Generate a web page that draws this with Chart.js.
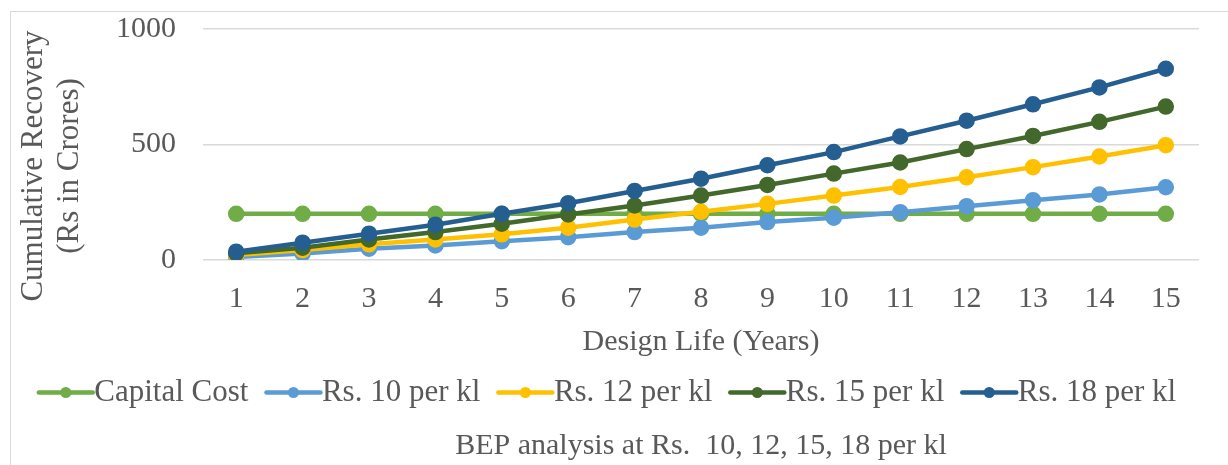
<!DOCTYPE html>
<html>
<head>
<meta charset="utf-8">
<script src="https://cdn.jsdelivr.net/npm/chart.js@4.4.1/dist/chart.umd.min.js"></script>
<style>
  html, body { margin: 0; padding: 0; background: #fff; overflow: hidden; }
  #wrap { position: relative; width: 1228px; height: 465px; }
  #frame { position: absolute; left: 10px; top: 11px; width: 1300px; height: 500px; border: 1.5px solid #d9d9d9; }
  canvas { position: absolute; left: 0; top: 0; }
</style>
</head>
<body>
<div id="wrap">
  <div id="frame"></div>
  <canvas id="chart" width="1228" height="465"></canvas>
</div>
<script>
const YEARS = ['1','2','3','4','5','6','7','8','9','10','11','12','13','14','15'];
const CAPITAL_COST = [200,200,200,200,200,200,200,200,200,200,200,200,200,200,200];
const RS_10 = [13,28,49,63,81,99,121,140,164,183,207,233,259,284,315];
const RS_12 = [22,43,68,89,111,140,175,209,243,279,316,358,402,448,497];
const RS_15 = [29,53,89,121,157,197,236,279,325,374,422,480,537,598,664];
const RS_18 = [36,75,114,153,200,246,299,352,410,467,535,603,674,747,828];
const Y_TITLE = ['Cumulative Recovery', '(Rs in Crores)'];

const FONT = 'Liberation Serif, Times New Roman, serif';
const GREY = '#595959';

function series(label, data, col, order) {
  return {
    label, data, order,
    borderColor: col, backgroundColor: col,
    pointBackgroundColor: col, pointBorderColor: col,
    borderWidth: 4.5, pointRadius: 6, pointHoverRadius: 6,
    tension: 0, fill: false
  };
}

// excel style legend marker: a line with a dot in the middle
const legendMarkers = {
  id: 'legendMarkers',
  afterDraw(chart) {
    const lg = chart.legend;
    if (!lg || !lg.legendHitBoxes) return;
    const ctx = chart.ctx;
    lg.legendHitBoxes.forEach((box, i) => {
      const item = lg.legendItems[i];
      const col = chart.data.datasets[item.datasetIndex].borderColor;
      const y = box.top + box.height / 2;
      ctx.save();
      ctx.strokeStyle = col;
      ctx.fillStyle = col;
      ctx.lineWidth = 4.5;
      ctx.lineCap = 'round';
      ctx.beginPath();
      ctx.moveTo(box.left + 2, y);
      ctx.lineTo(box.left + 56, y);
      ctx.stroke();
      ctx.beginPath();
      ctx.arc(box.left + 29, y, 5.5, 0, Math.PI * 2);
      ctx.fill();
      ctx.restore();
    });
  }
};

// y title sits a little below the plot centre in the original, so draw it here
const yTitle = {
  id: 'yTitle',
  afterDraw(chart) {
    const ctx = chart.ctx;
    ctx.save();
    ctx.translate(34, 166);
    ctx.rotate(-Math.PI / 2);
    ctx.fillStyle = GREY;
    ctx.font = '31px ' + FONT;
    ctx.textAlign = 'center';
    ctx.textBaseline = 'middle';
    Y_TITLE.forEach((t, i) => ctx.fillText(t, 0, i * 36));
    ctx.restore();
  }
};

new Chart(document.getElementById('chart'), {
  type: 'line',
  data: {
    labels: YEARS,
    datasets: [
      series('Capital Cost', CAPITAL_COST, '#70AD47', 5),
      series('Rs. 10 per kl', RS_10, '#5B9BD5', 4),
      series('Rs. 12 per kl', RS_12, '#FFC000', 3),
      series('Rs. 15 per kl', RS_15, '#43682B', 2),
      series('Rs. 18 per kl', RS_18, '#255E91', 1)
    ]
  },
  options: {
    responsive: false,
    animation: false,
    layout: { padding: { left: 14, right: 29, top: 29, bottom: 0 } },
    plugins: {
      tooltip: { enabled: false },
      legend: {
        position: 'bottom',
        labels: {
          color: GREY,
          font: { family: FONT, size: 31 },
          boxWidth: 42,
          padding: 16,
          sort: (a, b) => a.datasetIndex - b.datasetIndex,
          generateLabels: chart => Chart.defaults.plugins.legend.labels.generateLabels(chart).map(l =>
            ({ ...l, fillStyle: 'rgba(0,0,0,0)', strokeStyle: 'rgba(0,0,0,0)', lineWidth: 0 }))
        }
      },
      title: {
        display: true,
        position: 'bottom',
        fullSize: false,
        text: 'BEP analysis at Rs.  10, 12, 15, 18 per kl',
        color: GREY,
        font: { family: FONT, size: 30, weight: 'normal', lineHeight: 1.2 },
        padding: { top: 10, bottom: 1 }
      }
    },
    scales: {
      x: {
        offset: true,
        grid: { display: false, drawTicks: false },
        border: { display: false },
        ticks: { color: GREY, font: { family: FONT, size: 30, lineHeight: 1.2 }, padding: 21, maxRotation: 0, autoSkip: false },
        title: { display: true, text: 'Design Life (Years)', color: GREY, font: { family: FONT, size: 30, lineHeight: 1.2 }, padding: { top: 0, bottom: 1 } },
        afterFit: s => { s.height = 101; s.paddingLeft = 0; s.paddingRight = 0; }
      },
      y: {
        min: 0, max: 1000,
        grid: { color: '#d9d9d9', lineWidth: 1.5, drawTicks: false },
        border: { display: false },
        ticks: { stepSize: 500, color: GREY, font: { family: FONT, size: 30 }, padding: 27, callback: v => String(v) },
        title: { display: false },
        afterFit: s => { s.width = 189; s.paddingTop = 0; s.paddingBottom = 0; }
      }
    }
  },
  plugins: [legendMarkers, yTitle]
});
</script>
</body>
</html>
